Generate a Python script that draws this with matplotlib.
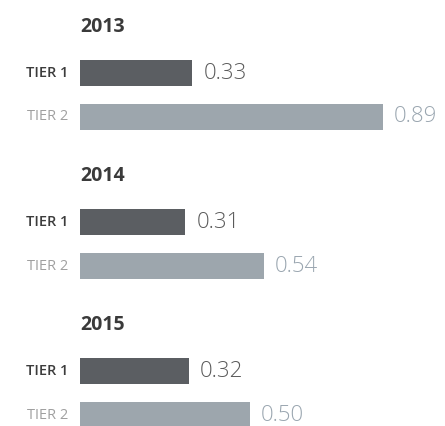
import numpy as np
import matplotlib.pyplot as plt

# Values per year and tier
years = ['2013', '2014', '2015']
tier_labels = ['TIER 1', 'TIER 2']
tier1_values = [0.33, 0.31, 0.32]
tier2_values = [0.89, 0.54, 0.50]

plt.rcParams['font.family'] = ['Open Sans', 'DejaVu Sans']

bar_colors = ['#5b5e62', '#9da6ad']
label_colors = ['#3c3c3c', '#a0a0a0']
value_colors = ['#5a5a5a', '#9aa6b0']

fig = plt.figure(figsize=(4.45, 4.26), dpi=100, facecolor='white')
# axes starts where the bars start; labels live in the left margin
ax = fig.add_axes([80 / 445, 0, 365 / 445, 1])

group_step = 3.0
row_offsets = [0.93, 1.81]
bar_h = 0.52

base = np.arange(len(years)) * group_step
for t, vals in enumerate([tier1_values, tier2_values]):
    ypos = base + row_offsets[t]
    bars = ax.barh(ypos, vals, height=bar_h, color=bar_colors[t])
    ax.bar_label(bars, labels=[f'{v:.2f}' for v in vals], padding=8,
                 fontsize=16, fontweight=300, color=value_colors[t])

for g, year in enumerate(years):
    ax.text(0, base[g], year, ha='left', va='center', fontsize=14,
            fontweight='bold', color='#3a3a3a')

# tier names at the left of every bar
for g in range(len(years)):
    for t in range(2):
        ax.text(-0.035, base[g] + row_offsets[t], tier_labels[t],
                ha='right', va='center', fontsize=10.5, color=label_colors[t],
                fontweight='semibold' if t == 0 else 'normal')

ax.set_xlim(0, 365 / 340)
ax.set_ylim(8.03, -0.544)
ax.set_axis_off()

fig.savefig('out.png', dpi=100)
